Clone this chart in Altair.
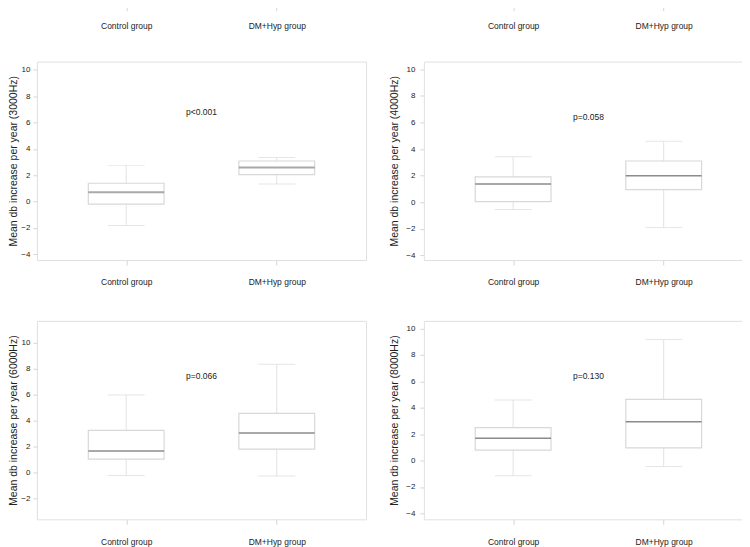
import altair as alt
import pandas as pd

# ---- data ----
freqs = ["3000Hz", "4000Hz", "6000Hz", "8000Hz"]
groups = ["Control group", "DM+Hyp group"]

# per frequency: [Control, DM+Hyp]
w_lo = [[-1.81, 1.34], [-0.55, -1.90], [-0.20, -0.25], [-1.14, -0.44]]
q1 = [[-0.20, 2.05], [0.05, 0.95], [1.05, 1.81], [0.79, 0.96]]
med = [[0.71, 2.58], [1.38, 2.00], [1.68, 3.05], [1.69, 2.94]]
q3 = [[1.39, 3.08], [1.90, 3.10], [3.26, 4.55], [2.49, 4.64]]
w_hi = [[2.73, 3.34], [3.43, 4.58], [5.97, 8.33], [4.59, 9.17]]

p_text = ["p<0.001", "p=0.058", "p=0.066", "p=0.130"]
p_y = [6.77, 6.38, 7.44, 6.37]

y_domains = [[-4.44, 10.63], [-4.35, 10.58], [-3.57, 11.65], [-4.45, 10.58]]
y_ticks = [-4, -2, 0, 2, 4, 6, 8, 10]

W, H = 330, 199
TXT = "#222222"
LIGHT = "#d6d6d6"


def xenc(label_pad, tick_size=5):
    return alt.X(
        "group:N",
        sort=groups,
        scale=alt.Scale(type="point", padding=0.593),
        axis=alt.Axis(
            title=None, labelAngle=0, domain=False, tickSize=tick_size, tickColor=LIGHT,
            labelPadding=label_pad, labelFontSize=8.5, labelColor=TXT,
        ),
    )


def panel(i, median_color, median_width, label_pad, title_pad):
    df = pd.DataFrame({
        "group": groups,
        "lo": w_lo[i], "q1": q1[i], "med": med[i], "q3": q3[i], "hi": w_hi[i],
    })
    pdf = pd.DataFrame({"pt": [p_text[i]], "py": [p_y[i]]})
    ysc = alt.Scale(domain=y_domains[i], nice=False, zero=False)
    yax = alt.Axis(
        values=y_ticks, title=f"Mean db increase per year ({freqs[i]})",
        grid=False, domain=False, tickSize=4, tickColor=LIGHT, labelPadding=label_pad,
        labelFontSize=8, labelColor=TXT, titleFontSize=10.5, titleFontWeight="normal",
        titleColor=TXT, titlePadding=title_pad,
    )

    def y(field):
        return alt.Y(f"{field}:Q", scale=ysc, axis=yax)

    base = alt.Chart(df)
    whisk = base.mark_rule(color="#e2e2e2", strokeWidth=1).encode(x=xenc(13), y=y("lo"), y2="hi")
    box = base.mark_bar(size=76, fill="white", stroke="#d8d8d8", strokeWidth=1.2).encode(
        x=xenc(13), y=y("q1"), y2="q3")
    mline = base.mark_tick(size=76, thickness=median_width, color=median_color).encode(
        x=xenc(13), y=y("med"))
    cap_lo = base.mark_tick(size=37, thickness=1, color="#dcdcdc").encode(x=xenc(13), y=y("lo"))
    cap_hi = base.mark_tick(size=37, thickness=1, color="#dcdcdc").encode(x=xenc(13), y=y("hi"))
    ptxt = alt.Chart(pdf).mark_text(fontSize=8.5, color=TXT).encode(
        x=alt.value(W / 2), y=y("py"), text="pt:N")
    return alt.layer(whisk, box, mline, cap_lo, cap_hi, ptxt).properties(width=W, height=H)


def strip():
    gdf = pd.DataFrame({"group": groups})
    return alt.Chart(gdf).mark_point(opacity=0).encode(
        x=xenc(11, tick_size=10)).properties(width=W, height=10)


chart = alt.concat(
    strip(), strip(),
    panel(0, "#858585", 2, 3, 2), panel(1, "#5a5a5a", 1.5, 5, 6),
    panel(2, "#858585", 2, 3, 2), panel(3, "#5a5a5a", 1.5, 5, 6),
    columns=2,
    spacing={"row": 61, "column": 58},
    bounds="flush",
).properties(
    padding={"left": 0, "top": -19, "right": -12, "bottom": 0}
).configure(
    font="Liberation Sans"
).configure_view(stroke="#e0e0e0", strokeWidth=1)

chart.save("out.html", embed_options={"renderer": "svg", "actions": False})
